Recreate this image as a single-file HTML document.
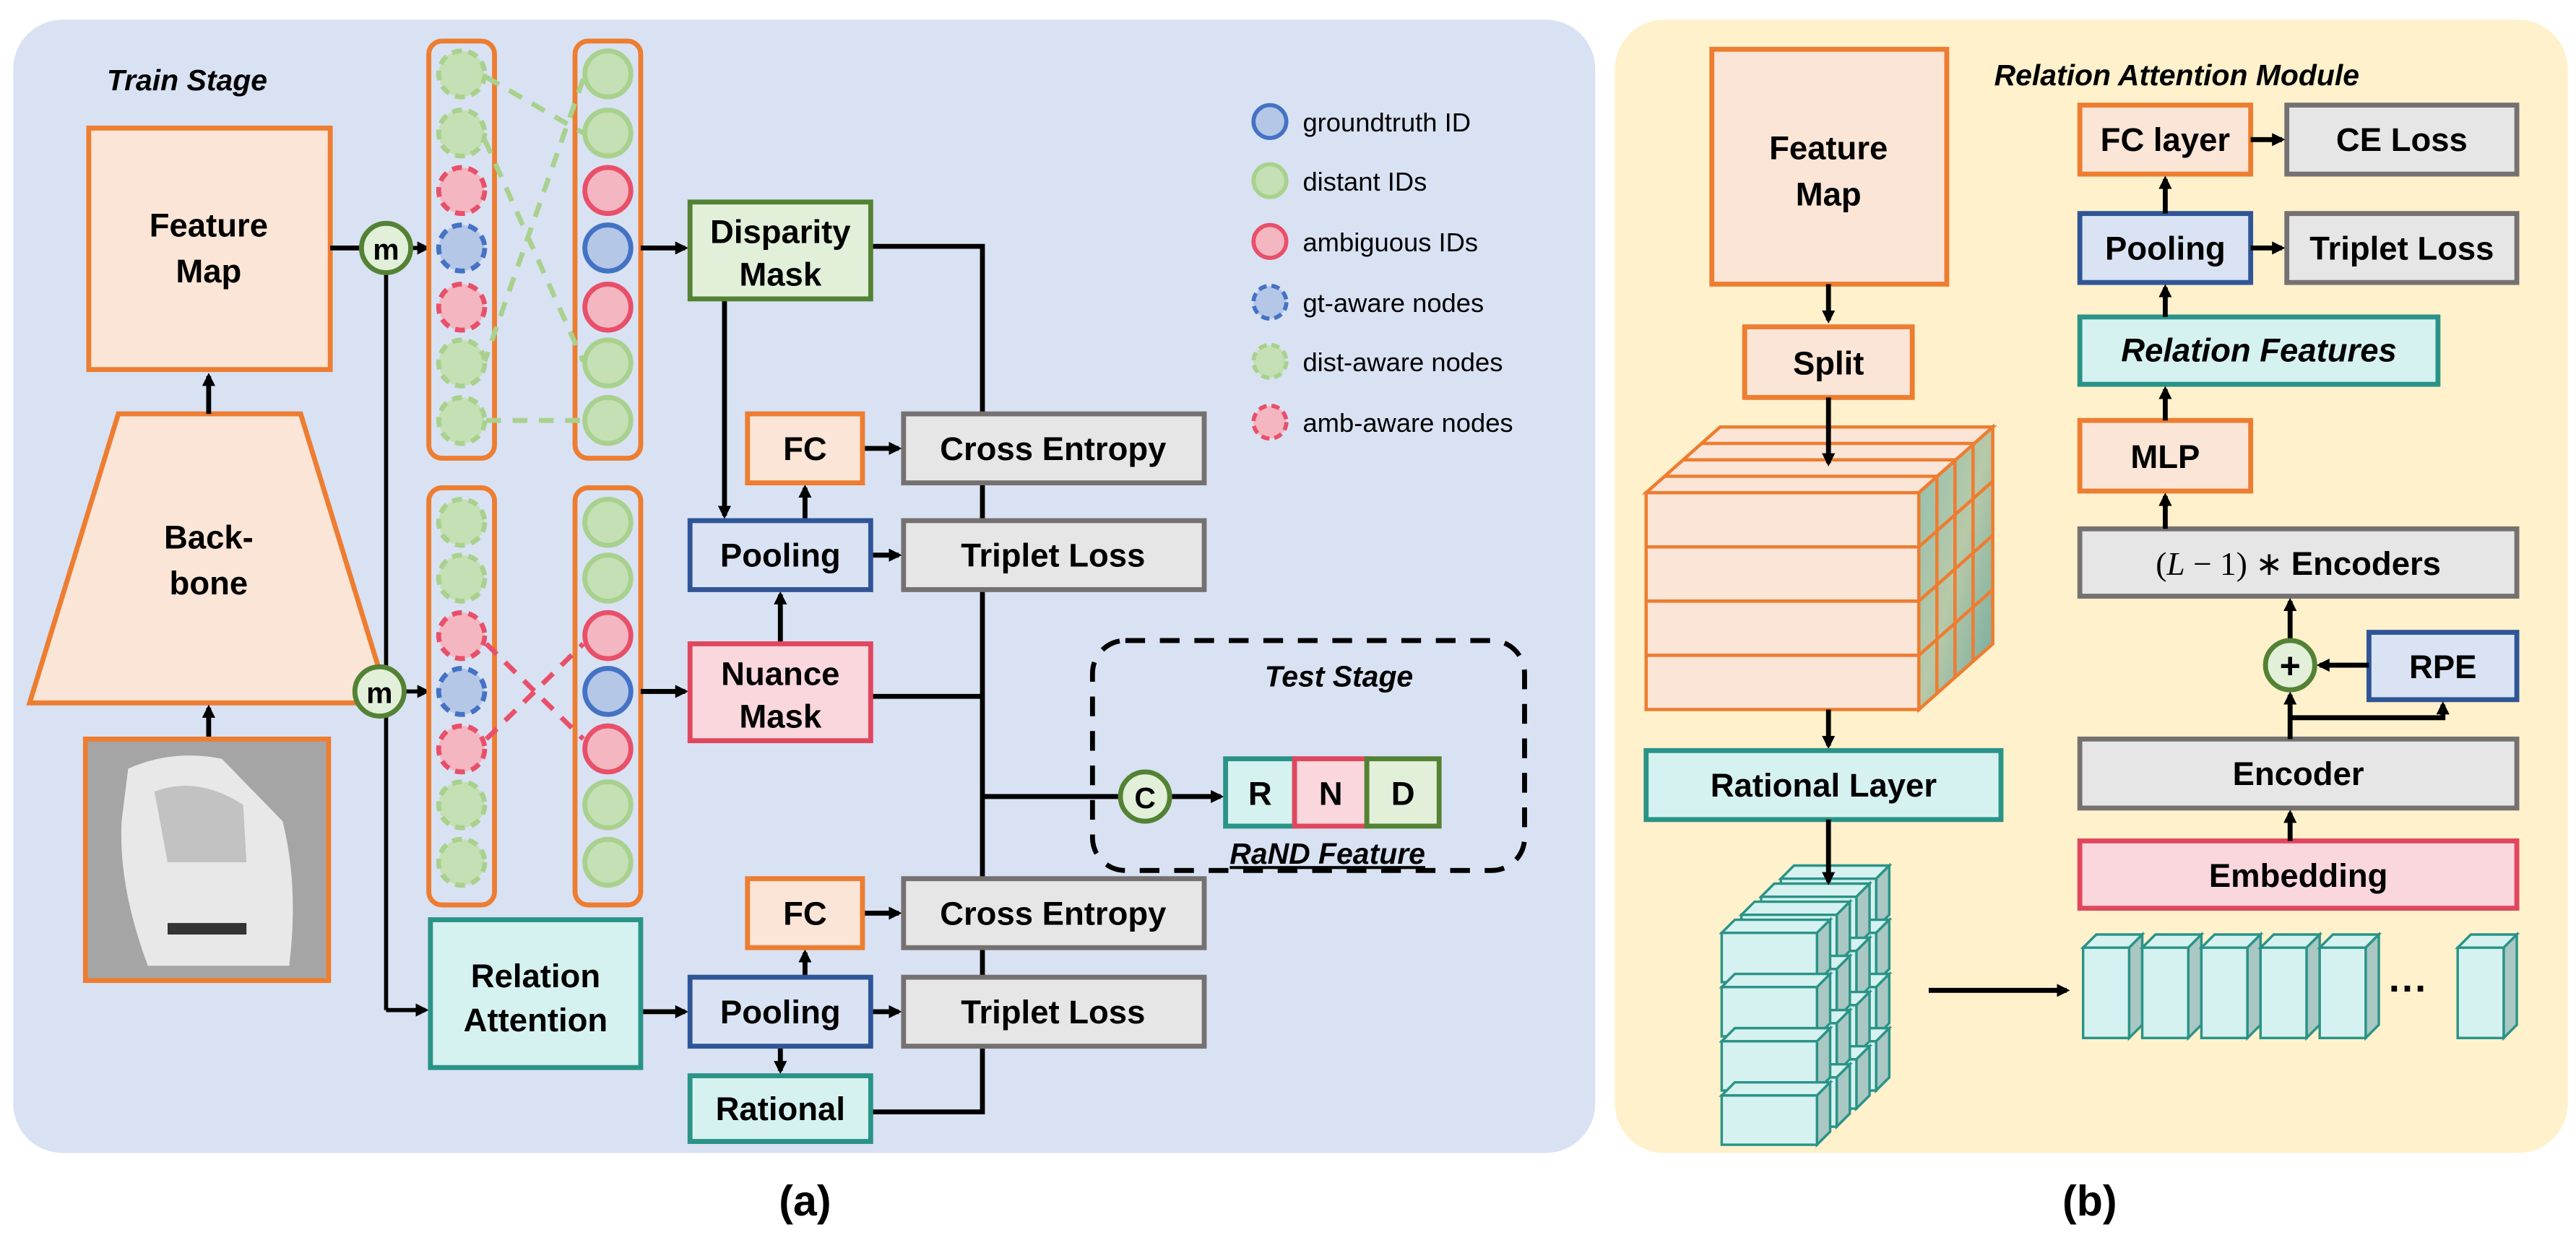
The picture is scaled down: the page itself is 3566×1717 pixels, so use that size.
<!DOCTYPE html>
<html><head><meta charset="utf-8"><style>
html,body{margin:0;padding:0;background:#fff;}
svg{display:block;}
text{font-family:"Liberation Sans",Arial,sans-serif;font-weight:bold;fill:#000;}
</style></head><body>
<svg width="3566" height="1717" viewBox="0 0 1568 755" xmlns="http://www.w3.org/2000/svg" xmlns:xlink="http://www.w3.org/1999/xlink">
<defs>
<marker id="a" markerWidth="8" markerHeight="8" refX="6" refY="4" orient="auto" markerUnits="userSpaceOnUse"><path d="M0,0 L8,4 L0,8 z" fill="#000"/></marker>
<linearGradient id="face" x1="0" y1="0" x2="1" y2="1"><stop offset="0" stop-color="#8fbfb0"/><stop offset="0.5" stop-color="#b8c9a8"/><stop offset="1" stop-color="#6fa9a0"/></linearGradient>
<g id="cube"><polygon points="0,0 58,0 66,-8 8,-8" fill="#d5f2f0"/><polygon points="58,0 66,-8 66,22 58,30" fill="#a9c7c3"/><rect x="0" y="0" width="58" height="30" fill="#d5f2f0"/></g>
<g id="col"><use href="#cube" xlink:href="#cube"/><use href="#cube" xlink:href="#cube" y="33"/><use href="#cube" xlink:href="#cube" y="66"/><use href="#cube" xlink:href="#cube" y="99"/></g>
<g id="slab"><polygon points="0,8 8,0 36,0 28,8" fill="#d5f2f0"/><polygon points="28,8 36,0 36,55 28,63" fill="#a9c7c3"/><rect x="0" y="8" width="28" height="55" fill="#d5f2f0"/></g>
</defs>
<!-- panels -->
<rect x="8" y="12" width="963" height="690" rx="30" fill="#d9e2f3"/>
<rect x="983" y="12" width="580" height="690" rx="30" fill="#fef1cb"/>
<text x="65" y="55" font-size="18" font-style="italic">Train Stage</text>

<!-- feature map & backbone -->
<rect x="54" y="78" width="147" height="147" fill="#fbe5d6" stroke="#ed7d31" stroke-width="3"/>
<text x="127" y="144" font-size="20" text-anchor="middle">Feature</text>
<text x="127" y="172" font-size="20" text-anchor="middle">Map</text>
<polygon points="72,252 183,252 237,428 18,428" fill="#fbe5d6" stroke="#ed7d31" stroke-width="3"/>
<text x="127" y="334" font-size="20" text-anchor="middle">Back-</text>
<text x="127" y="362" font-size="20" text-anchor="middle">bone</text>
<line x1="127" y1="252" x2="127" y2="229" stroke="#000" stroke-width="3" marker-end="url(#a)"/>
<line x1="127" y1="450" x2="127" y2="431" stroke="#000" stroke-width="3" marker-end="url(#a)"/>
<rect x="52" y="450" width="148" height="147" fill="#a5a5a5" stroke="#ed7d31" stroke-width="3"/>
<path d="M78,468 Q105,456 135,462 L172,500 Q182,540 176,588 L90,588 Q72,540 74,500 z" fill="#e8e8e8"/>
<path d="M94,482 Q120,472 148,490 L150,525 L102,525 z" fill="#c2c2c2"/>
<rect x="102" y="562" width="48" height="7" fill="#333"/>

<!-- m circles and lines -->
<line x1="201" y1="151" x2="221" y2="151" stroke="#000" stroke-width="3"/>
<line x1="235" y1="167" x2="235" y2="615" stroke="#000" stroke-width="2.5"/>
<line x1="235" y1="615" x2="259" y2="615" stroke="#000" stroke-width="2.5" marker-end="url(#a)"/>
<line x1="251" y1="151" x2="260" y2="151" stroke="#000" stroke-width="2.5" marker-end="url(#a)"/>
<line x1="246" y1="421" x2="260" y2="421" stroke="#000" stroke-width="2.5" marker-end="url(#a)"/>
<circle cx="235" cy="151" r="15" fill="#e2f0d9" stroke="#548235" stroke-width="3"/>
<text x="235" y="158" font-size="18" text-anchor="middle">m</text>
<circle cx="231" cy="421" r="15" fill="#e2f0d9" stroke="#548235" stroke-width="3"/>
<text x="231" y="428" font-size="18" text-anchor="middle">m</text>

<!-- columns -->
<g fill="none" stroke="#ed7d31" stroke-width="3">
<rect x="261" y="25" width="40" height="254" rx="8"/>
<rect x="350" y="25" width="40" height="254" rx="8"/>
<rect x="261" y="297" width="40" height="254" rx="8"/>
<rect x="350" y="297" width="40" height="254" rx="8"/>
</g>
<g stroke="#a9d18e" stroke-width="3" stroke-dasharray="9,7" fill="none">
<line x1="296" y1="47" x2="355" y2="81"/>
<line x1="295" y1="85" x2="355" y2="220"/>
<line x1="355" y1="48" x2="295" y2="220"/>
<line x1="296" y1="256" x2="355" y2="256"/>
</g>
<g stroke="#e8506a" stroke-width="3" stroke-dasharray="9,7" fill="none">
<line x1="296" y1="392" x2="355" y2="450"/>
<line x1="296" y1="450" x2="355" y2="392"/>
</g>
<g stroke-width="3">
<g stroke-dasharray="6,4">
<circle cx="281" cy="45" r="14" fill="#c5e0b4" stroke="#a9d18e"/>
<circle cx="281" cy="81" r="14" fill="#c5e0b4" stroke="#a9d18e"/>
<circle cx="281" cy="116" r="14" fill="#f4b6c0" stroke="#e8506a"/>
<circle cx="281" cy="151" r="14" fill="#b4c7e7" stroke="#4472c4"/>
<circle cx="281" cy="187" r="14" fill="#f4b6c0" stroke="#e8506a"/>
<circle cx="281" cy="221" r="14" fill="#c5e0b4" stroke="#a9d18e"/>
<circle cx="281" cy="256" r="14" fill="#c5e0b4" stroke="#a9d18e"/>
<circle cx="281" cy="318" r="14" fill="#c5e0b4" stroke="#a9d18e"/>
<circle cx="281" cy="352" r="14" fill="#c5e0b4" stroke="#a9d18e"/>
<circle cx="281" cy="387" r="14" fill="#f4b6c0" stroke="#e8506a"/>
<circle cx="281" cy="421" r="14" fill="#b4c7e7" stroke="#4472c4"/>
<circle cx="281" cy="456" r="14" fill="#f4b6c0" stroke="#e8506a"/>
<circle cx="281" cy="490" r="14" fill="#c5e0b4" stroke="#a9d18e"/>
<circle cx="281" cy="525" r="14" fill="#c5e0b4" stroke="#a9d18e"/>
</g>
<circle cx="370" cy="45" r="14" fill="#c5e0b4" stroke="#a9d18e"/>
<circle cx="370" cy="81" r="14" fill="#c5e0b4" stroke="#a9d18e"/>
<circle cx="370" cy="116" r="14" fill="#f4b6c0" stroke="#e8506a"/>
<circle cx="370" cy="151" r="14" fill="#b4c7e7" stroke="#4472c4"/>
<circle cx="370" cy="187" r="14" fill="#f4b6c0" stroke="#e8506a"/>
<circle cx="370" cy="221" r="14" fill="#c5e0b4" stroke="#a9d18e"/>
<circle cx="370" cy="256" r="14" fill="#c5e0b4" stroke="#a9d18e"/>
<circle cx="370" cy="318" r="14" fill="#c5e0b4" stroke="#a9d18e"/>
<circle cx="370" cy="352" r="14" fill="#c5e0b4" stroke="#a9d18e"/>
<circle cx="370" cy="387" r="14" fill="#f4b6c0" stroke="#e8506a"/>
<circle cx="370" cy="421" r="14" fill="#b4c7e7" stroke="#4472c4"/>
<circle cx="370" cy="456" r="14" fill="#f4b6c0" stroke="#e8506a"/>
<circle cx="370" cy="490" r="14" fill="#c5e0b4" stroke="#a9d18e"/>
<circle cx="370" cy="525" r="14" fill="#c5e0b4" stroke="#a9d18e"/>
</g>

<g stroke="#000" stroke-width="3" fill="none">
<line x1="390" y1="151" x2="417" y2="151" marker-end="url(#a)"/>
<line x1="390" y1="421" x2="417" y2="421" marker-end="url(#a)"/>
<line x1="441" y1="182" x2="441" y2="314" marker-end="url(#a)"/>
<line x1="475" y1="392" x2="475" y2="362" marker-end="url(#a)"/>
<line x1="490" y1="317" x2="490" y2="297" marker-end="url(#a)"/>
<line x1="525" y1="273" x2="547" y2="273" marker-end="url(#a)"/>
<line x1="530" y1="338" x2="547" y2="338" marker-end="url(#a)"/>
<line x1="390" y1="616" x2="417" y2="616" marker-end="url(#a)"/>
<line x1="490" y1="595" x2="490" y2="580" marker-end="url(#a)"/>
<line x1="525" y1="556" x2="547" y2="556" marker-end="url(#a)"/>
<line x1="530" y1="616" x2="547" y2="616" marker-end="url(#a)"/>
<line x1="475" y1="637" x2="475" y2="652" marker-end="url(#a)"/>
<polyline points="530,150 598,150 598,677 530,677"/>
<line x1="530" y1="424" x2="598" y2="424"/>
<line x1="598" y1="485" x2="682" y2="485"/>
<line x1="712" y1="485" x2="743" y2="485" marker-end="url(#a)"/>
</g>

<g stroke-width="3">
<rect x="420" y="123" width="110" height="59" fill="#e2f0d9" stroke="#548235"/>
<rect x="455" y="252" width="70" height="42" fill="#fbe5d6" stroke="#ed7d31"/>
<rect x="550" y="252" width="183" height="42" fill="#e7e6e6" stroke="#767171"/>
<rect x="420" y="317" width="110" height="42" fill="#dae3f3" stroke="#2f5597"/>
<rect x="550" y="317" width="183" height="42" fill="#e7e6e6" stroke="#767171"/>
<rect x="420" y="392" width="110" height="59" fill="#fad7dd" stroke="#e0475e"/>
<rect x="262" y="560" width="128" height="90" fill="#d5f2f0" stroke="#2a9387"/>
<rect x="455" y="535" width="70" height="42" fill="#fbe5d6" stroke="#ed7d31"/>
<rect x="550" y="535" width="183" height="42" fill="#e7e6e6" stroke="#767171"/>
<rect x="420" y="595" width="110" height="42" fill="#dae3f3" stroke="#2f5597"/>
<rect x="550" y="595" width="183" height="42" fill="#e7e6e6" stroke="#767171"/>
<rect x="420" y="655" width="110" height="40" fill="#d5f2f0" stroke="#2a9387"/>
</g>
<g font-size="20" text-anchor="middle">
<text x="475" y="148">Disparity</text><text x="475" y="174">Mask</text>
<text x="490" y="280">FC</text>
<text x="641" y="280">Cross Entropy</text>
<text x="475" y="345">Pooling</text>
<text x="641" y="345">Triplet Loss</text>
<text x="475" y="417">Nuance</text><text x="475" y="443">Mask</text>
<text x="326" y="601">Relation</text><text x="326" y="628">Attention</text>
<text x="490" y="563">FC</text>
<text x="641" y="563">Cross Entropy</text>
<text x="475" y="623">Pooling</text>
<text x="641" y="623">Triplet Loss</text>
<text x="475" y="682">Rational</text>
</g>

<rect x="665" y="390" width="263" height="140" rx="20" fill="none" stroke="#000" stroke-width="3" stroke-dasharray="12,9"/>
<text x="815" y="418" font-size="18" font-style="italic" text-anchor="middle">Test Stage</text>
<circle cx="697" cy="485" r="15" fill="#e2f0d9" stroke="#548235" stroke-width="3"/>
<text x="697" y="492" font-size="18" text-anchor="middle">C</text>
<rect x="746" y="462" width="42" height="41" fill="#d5f2f0" stroke="#2a9387" stroke-width="3"/>
<rect x="788" y="462" width="44" height="41" fill="#fad7dd" stroke="#e0475e" stroke-width="3"/>
<rect x="832" y="462" width="44" height="41" fill="#e2f0d9" stroke="#548235" stroke-width="3"/>
<g font-size="20" text-anchor="middle"><text x="767" y="490">R</text><text x="810" y="490">N</text><text x="854" y="490">D</text></g>
<text x="808" y="526" font-size="18" font-style="italic" text-anchor="middle" text-decoration="underline">RaND Feature</text>

<g stroke-width="2.5">
<circle cx="773" cy="74" r="10" fill="#b4c7e7" stroke="#4472c4"/>
<circle cx="773" cy="110" r="10" fill="#c5e0b4" stroke="#a9d18e"/>
<circle cx="773" cy="147" r="10" fill="#f4b6c0" stroke="#e8506a"/>
<circle cx="773" cy="184" r="10" fill="#b4c7e7" stroke="#4472c4" stroke-dasharray="5,3"/>
<circle cx="773" cy="220" r="10" fill="#c5e0b4" stroke="#a9d18e" stroke-dasharray="5,3"/>
<circle cx="773" cy="257" r="10" fill="#f4b6c0" stroke="#e8506a" stroke-dasharray="5,3"/>
</g>
<g font-size="16">
<text x="793" y="80" style="font-weight:normal">groundtruth ID</text>
<text x="793" y="116" style="font-weight:normal">distant IDs</text>
<text x="793" y="153" style="font-weight:normal">ambiguous IDs</text>
<text x="793" y="190" style="font-weight:normal">gt-aware nodes</text>
<text x="793" y="226" style="font-weight:normal">dist-aware nodes</text>
<text x="793" y="263" style="font-weight:normal">amb-aware nodes</text>
</g>

<text x="490" y="740" font-size="26" text-anchor="middle">(a)</text>
<text x="1272" y="740" font-size="26" text-anchor="middle">(b)</text>

<!-- right panel -->
<rect x="1042" y="30" width="143" height="143" fill="#fbe5d6" stroke="#ed7d31" stroke-width="3"/>
<text x="1113" y="97" font-size="20" text-anchor="middle">Feature</text>
<text x="1113" y="125" font-size="20" text-anchor="middle">Map</text>
<line x1="1113" y1="173" x2="1113" y2="195" stroke="#000" stroke-width="3" marker-end="url(#a)"/>
<rect x="1062" y="199" width="102" height="43" fill="#fbe5d6" stroke="#ed7d31" stroke-width="3"/>
<text x="1113" y="228" font-size="20" text-anchor="middle">Split</text>

<g stroke="#ed7d31" stroke-width="2">
<polygon points="1002,300 1168,300 1213,260 1047,260" fill="#fbe5d6"/>
<line x1="1013" y1="290" x2="1179" y2="290"/>
<line x1="1024" y1="280" x2="1190" y2="280"/>
<line x1="1035" y1="270" x2="1201" y2="270"/>
<polygon points="1168,300 1213,260 1213,392 1168,432" fill="url(#face)"/>
<line x1="1168" y1="333" x2="1213" y2="293"/>
<line x1="1168" y1="366" x2="1213" y2="326"/>
<line x1="1168" y1="399" x2="1213" y2="359"/>
<line x1="1179" y1="290" x2="1179" y2="422"/>
<line x1="1190" y1="280" x2="1190" y2="412"/>
<line x1="1201" y1="270" x2="1201" y2="402"/>
<rect x="1002" y="300" width="166" height="33" fill="#fbe5d6"/>
<rect x="1002" y="333" width="166" height="33" fill="#fbe5d6"/>
<rect x="1002" y="366" width="166" height="33" fill="#fbe5d6"/>
<rect x="1002" y="399" width="166" height="33" fill="#fbe5d6"/>
</g>
<line x1="1113" y1="242" x2="1113" y2="282" stroke="#000" stroke-width="3" marker-end="url(#a)"/>
<line x1="1113" y1="432" x2="1113" y2="454" stroke="#000" stroke-width="3" marker-end="url(#a)"/>
<rect x="1002" y="457" width="216" height="42" fill="#d5f2f0" stroke="#2a9387" stroke-width="3"/>
<text x="1110" y="485" font-size="20" text-anchor="middle">Rational Layer</text>

<g stroke="#2a9387" stroke-width="1.5" transform="translate(1048,568)">
<use href="#col" xlink:href="#col" x="36" y="-33"/>
<use href="#col" xlink:href="#col" x="24" y="-22"/>
<use href="#col" xlink:href="#col" x="12" y="-11"/>
<use href="#col" xlink:href="#col"/>
</g>
<line x1="1113" y1="499" x2="1113" y2="537" stroke="#000" stroke-width="3" marker-end="url(#a)"/>
<line x1="1174" y1="603" x2="1258" y2="603" stroke="#000" stroke-width="3" marker-end="url(#a)"/>

<g stroke="#2a9387" stroke-width="1.5">
<use href="#slab" xlink:href="#slab" x="1268" y="569"/>
<use href="#slab" xlink:href="#slab" x="1304" y="569"/>
<use href="#slab" xlink:href="#slab" x="1340" y="569"/>
<use href="#slab" xlink:href="#slab" x="1376" y="569"/>
<use href="#slab" xlink:href="#slab" x="1412" y="569"/>
<use href="#slab" xlink:href="#slab" x="1496" y="569"/>
</g>
<text x="1466" y="610" font-size="24" text-anchor="middle">···</text>

<text x="1325" y="52" font-size="18" font-style="italic" text-anchor="middle">Relation Attention Module</text>
<g stroke-width="3">
<rect x="1266" y="64" width="104" height="42" fill="#fbe5d6" stroke="#ed7d31"/>
<rect x="1392" y="64" width="140" height="42" fill="#e7e6e6" stroke="#767171"/>
<rect x="1266" y="130" width="104" height="42" fill="#dae3f3" stroke="#2f5597"/>
<rect x="1392" y="130" width="140" height="42" fill="#e7e6e6" stroke="#767171"/>
<rect x="1266" y="193" width="218" height="41" fill="#d5f2f0" stroke="#2a9387"/>
<rect x="1266" y="256" width="104" height="43" fill="#fbe5d6" stroke="#ed7d31"/>
<rect x="1266" y="322" width="266" height="41" fill="#e7e6e6" stroke="#767171"/>
<rect x="1442" y="385" width="90" height="41" fill="#dae3f3" stroke="#2f5597"/>
<rect x="1266" y="450" width="266" height="42" fill="#e7e6e6" stroke="#767171"/>
<rect x="1266" y="512" width="266" height="41" fill="#fad7dd" stroke="#e0475e"/>
</g>
<g stroke="#000" stroke-width="3" fill="none">
<line x1="1370" y1="85" x2="1389" y2="85" marker-end="url(#a)"/>
<line x1="1370" y1="151" x2="1389" y2="151" marker-end="url(#a)"/>
<line x1="1318" y1="130" x2="1318" y2="109" marker-end="url(#a)"/>
<line x1="1318" y1="193" x2="1318" y2="175" marker-end="url(#a)"/>
<line x1="1318" y1="256" x2="1318" y2="237" marker-end="url(#a)"/>
<line x1="1318" y1="322" x2="1318" y2="302" marker-end="url(#a)"/>
<line x1="1394" y1="389" x2="1394" y2="366" marker-end="url(#a)"/>
<line x1="1442" y1="405" x2="1412" y2="405" marker-end="url(#a)"/>
<line x1="1394" y1="450" x2="1394" y2="423" marker-end="url(#a)"/>
<polyline points="1394,437 1487,437 1487,429" marker-end="url(#a)"/>
<line x1="1394" y1="512" x2="1394" y2="495" marker-end="url(#a)"/>
</g>
<circle cx="1394" cy="405" r="15" fill="#e2f0d9" stroke="#548235" stroke-width="3"/>
<text x="1394" y="413" font-size="22" text-anchor="middle">+</text>
<g font-size="20" text-anchor="middle">
<text x="1318" y="92">FC layer</text>
<text x="1462" y="92">CE Loss</text>
<text x="1318" y="158">Pooling</text>
<text x="1462" y="158">Triplet Loss</text>
<text x="1375" y="220" font-style="italic">Relation Features</text>
<text x="1318" y="285">MLP</text>
<text x="1399" y="350"><tspan font-family="Liberation Serif" font-weight="normal">(<tspan font-style="italic">L</tspan> − 1) ∗ </tspan>Encoders</text>
<text x="1487" y="413">RPE</text>
<text x="1399" y="478">Encoder</text>
<text x="1399" y="540">Embedding</text>
</g>
</svg>
</body></html>
